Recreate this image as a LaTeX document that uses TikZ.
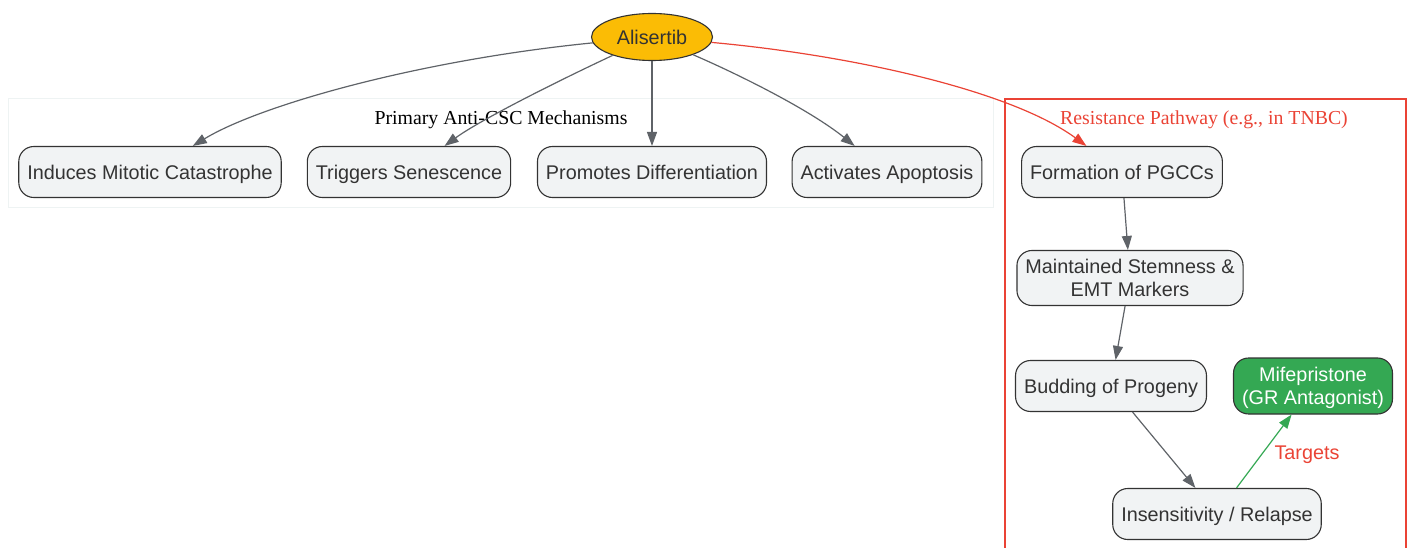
\documentclass[tikz,border=0pt]{standalone}
\usepackage{fontspec}
\newfontfamily\arialf{Liberation Sans}
\newfontfamily\timesf{Liberation Serif}
\usetikzlibrary{arrows.meta,shapes.geometric}
\definecolor{boxfill}{HTML}{F1F3F4}
\definecolor{boxline}{HTML}{333333}
\definecolor{edgegrey}{HTML}{5F6368}
\definecolor{gyellow}{HTML}{FBBC05}
\definecolor{gred}{HTML}{EA4335}
\definecolor{ggreen}{HTML}{34A853}
\definecolor{clusterline}{HTML}{EEF3F3}
\tikzset{
  txt/.style={text height=18pt, text depth=3pt},
  mbox/.style={draw=boxline, fill=boxfill, rounded corners=15pt, line width=1.1pt,
    inner xsep=8.5pt, inner ysep=2pt, minimum height=51pt, align=center,
    text=boxline, font=\arialf\fontsize{19.8}{23}\selectfont},
  box/.style={mbox, txt},
  multibox/.style={mbox, text depth=0pt},
  greenbox/.style={multibox, fill=ggreen, text=white, minimum height=56pt},
  conn/.style={draw=edgegrey, line width=1.2pt, -{Triangle[length=14pt,width=10pt]}},
  redconn/.style={conn, draw=gred},
  greenconn/.style={conn, draw=ggreen},
  clusterlabel/.style={font=\timesf\fontsize{19.8}{23}\selectfont, inner sep=0pt, txt},
}
\begin{document}
\begin{tikzpicture}[x=1pt,y=-1pt]
\useasboundingbox (0,0) rectangle (1409,548);
% clusters
\draw[draw=clusterline, line width=1pt, fill=white] (8,99) rectangle (993,208);
\node[clusterlabel] (lab1) at (501,117) {Primary Anti-CSC Mechanisms};
\draw[draw=gred, line width=1.2pt] (1005,549) -- (1005,99) -- (1406,99) -- (1406,549);
\node[clusterlabel, text=gred] (lab2) at (1204,117) {Resistance Pathway (e.g., in TNBC)};
% nodes
\node[ellipse, draw=boxline, fill=gyellow, line width=1.1pt, minimum width=121pt, minimum height=47pt, inner sep=0pt, txt, text=boxline, font=\arialf\fontsize{19.8}{23}\selectfont] (ali) at (652,37) {Alisertib};
\node[box] (ind) at (150,172) {Induces Mitotic Catastrophe};
\node[box] (trig) at (409,172) {Triggers Senescence};
\node[box] (prom) at (652,172) {Promotes Differentiation};
\node[box] (act) at (887,172) {Activates Apoptosis};
\node[box] (form) at (1122,172) {Formation of PGCCs};
\node[multibox, minimum height=55pt] (maint) at (1130,278) {Maintained Stemness \&\\EMT Markers};
\node[box] (bud) at (1111,386) {Budding of Progeny};
\node[greenbox] (mife) at (1313,386) {Mifepristone\\(GR Antagonist)};
\node[box] (ins) at (1217,514) {Insensitivity / Relapse};
% edges
\draw[conn] (ali) .. controls (420,60) and (260,105) .. (ind);
\draw[conn] (ali) .. controls (560,80) and (480,120) .. (trig);
\draw[conn] (ali) -- (prom);
\draw[conn] (ali) .. controls (740,75) and (810,110) .. (act);
\draw[redconn] (ali) .. controls (850,55) and (1010,90) .. (form);
\draw[conn] (form) -- (maint);
\draw[conn] (maint) -- (bud);
\draw[conn] (bud) -- (ins);
\draw[greenconn] (ins) -- (mife);
\node[font=\arialf\fontsize{19.8}{23}\selectfont, text=gred, inner sep=0pt, txt] (tlab) at (1307,452) {Targets};
\end{tikzpicture}
\end{document}
